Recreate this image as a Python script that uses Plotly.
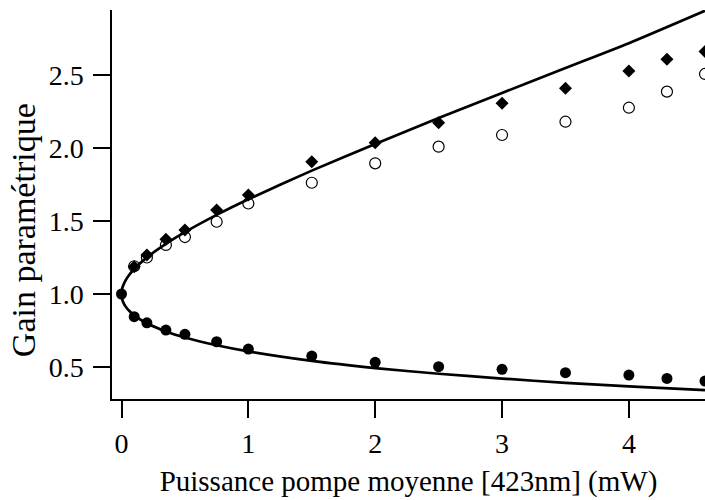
import plotly.graph_objects as go

# Measured points
power = [0.1, 0.2, 0.35, 0.5, 0.75, 1.0, 1.5, 2.0, 2.5, 3.0, 3.5, 4.0, 4.3, 4.6]
gain_diamond = [1.187, 1.267, 1.375, 1.438, 1.575, 1.678, 1.906, 2.036, 2.173, 2.306, 2.409, 2.527, 2.607, 2.66]
gain_open = [1.19, 1.25, 1.336, 1.39, 1.495, 1.62, 1.762, 1.895, 2.009, 2.089, 2.18, 2.276, 2.386, 2.507]
power_filled = [0.0, 0.1, 0.2, 0.35, 0.5, 0.75, 1.0, 1.5, 2.0, 2.5, 3.0, 3.5, 4.0, 4.3, 4.6]
gain_filled = [1.0, 0.845, 0.803, 0.753, 0.724, 0.673, 0.623, 0.575, 0.532, 0.502, 0.484, 0.461, 0.445, 0.422, 0.404]

# Theoretical curve (amplification and de-amplification branches)
curve_power = [4.6, 4.0, 3.5, 3.0, 2.5, 2.0, 1.5, 1.0, 0.75, 0.5, 0.35, 0.2, 0.1, 0.06, 0.03, 0.01, 0.005, 0.002, 0.0,
               0.002, 0.005, 0.01, 0.03, 0.06, 0.1, 0.2, 0.35, 0.5, 0.75, 1.0, 1.5, 2.0, 2.5, 3.0, 3.5, 4.0, 4.6]
curve_gain = [0.342, 0.368, 0.392, 0.421, 0.454, 0.493, 0.542, 0.607, 0.649, 0.702, 0.744, 0.800, 0.854, 0.885, 0.917, 0.951, 0.965, 0.978, 1.0,
              1.023, 1.036, 1.051, 1.090, 1.130, 1.171, 1.251, 1.344, 1.424, 1.542, 1.649, 1.845, 2.028, 2.205, 2.377, 2.548, 2.718, 2.94]

x_ticks = [0, 1, 2, 3, 4]
y_ticks = [0.5, 1.0, 1.5, 2.0, 2.5]
y_tick_labels = ["0.5", "1.0", "1.5", "2.0", "2.5"]

x_title = "Puissance pompe moyenne [423nm] (mW)"
y_title = "Gain paramétrique"

fig = go.Figure()
fig.add_trace(go.Scatter(x=curve_power, y=curve_gain, mode="lines",
                         line=dict(color="black", width=2.7, shape="spline", smoothing=0.6),
                         showlegend=False, hoverinfo="skip"))
fig.add_trace(go.Scatter(x=power, y=gain_diamond, mode="markers",
                         marker=dict(symbol="diamond", size=10, color="black"), showlegend=False))
fig.add_trace(go.Scatter(x=power, y=gain_open, mode="markers",
                         marker=dict(symbol="circle-open", size=11, color="black", line=dict(width=1.2)),
                         showlegend=False))
fig.add_trace(go.Scatter(x=power_filled, y=gain_filled, mode="markers",
                         marker=dict(symbol="circle", size=11, color="black"), showlegend=False))

serif = "Liberation Serif, Times New Roman, serif"
tick_font = dict(family=serif, size=28, color="black")
title_font = dict(family=serif, size=29, color="black")
ytitle_font = dict(family=serif, size=34, color="black")

fig.update_layout(
    width=705, height=500,
    margin=dict(l=112, r=0, t=10, b=101),
    paper_bgcolor="white", plot_bgcolor="white",
    font=tick_font,
    xaxis=dict(range=[-0.075, 4.6], tickvals=x_ticks, ticks="outside", ticklen=17, tickwidth=1.5,
               tickcolor="black", showline=True, linecolor="black", linewidth=1.5, showgrid=False,
               zeroline=False, ticklabelstandoff=2, automargin=False, tickfont=tick_font,
               title=dict(text=x_title, font=title_font, standoff=12)),
    yaxis=dict(range=[0.281, 2.945], tickvals=y_ticks, ticktext=y_tick_labels, ticks="outside", ticklen=17,
               tickwidth=1.5, tickcolor="black", showline=True, linecolor="black", linewidth=1.5,
               showgrid=False, zeroline=False, ticklabelstandoff=4, automargin=False, tickfont=tick_font),
    annotations=[dict(text=y_title, textangle=-90, font=ytitle_font, showarrow=False,
                      xref="paper", yref="paper", x=0, y=0.434, xshift=-89,
                      xanchor="center", yanchor="middle")],
)

fig.write_html("out.html", config={"displayModeBar": False},
               post_script="document.body.style.margin='0';")
